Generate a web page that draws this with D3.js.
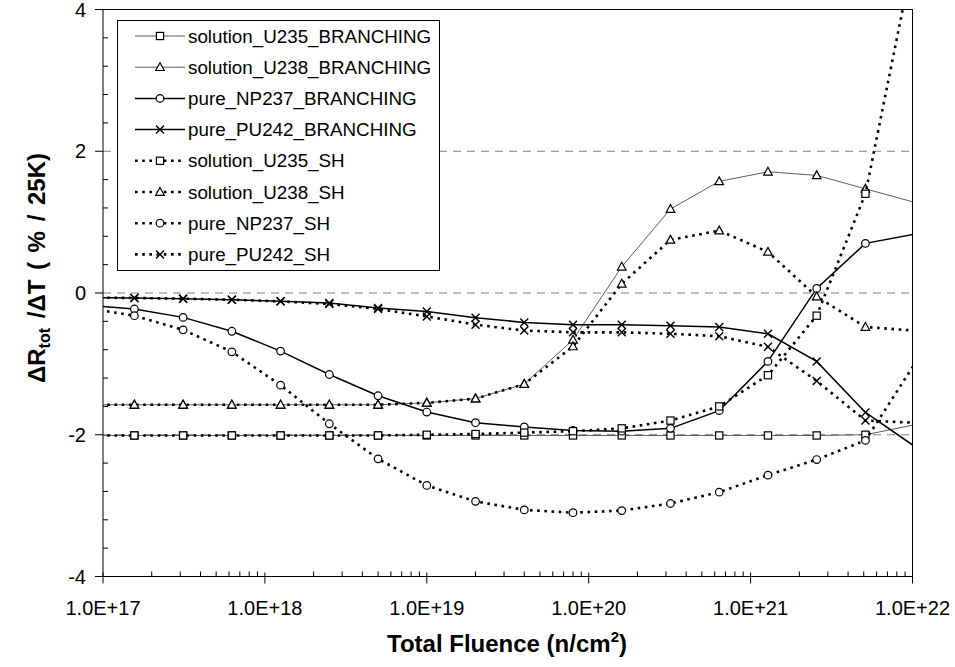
<!DOCTYPE html>
<html><head><meta charset="utf-8">
<script src="https://cdn.jsdelivr.net/npm/d3@7/dist/d3.min.js"></script>
<style>body{margin:0;background:#fff} svg{display:block} text{font-family:Arial,"Liberation Sans",sans-serif;fill:#000}</style>
</head><body><svg id="c" width="955" height="667"></svg>
<script>
// Total fluence (n/cm2) sample points (first and last lie just outside the axis range)
const fluence = [7.8125e16, 1.5625e17, 3.125e17, 6.25e17, 1.25e18, 2.5e18, 5e18, 1e19, 2e19, 4e19, 8e19, 1.6e20, 3.2e20, 6.4e20, 1.28e21, 2.56e21, 5.12e21, 1.024e22];

const solution_U235_BRANCHING = [-2.01,-2.01,-2.01,-2.01,-2.01,-2.01,-2.01,-2.01,-2.01,-2.01,-2.01,-2.01,-2.01,-2.01,-2.01,-2.01,-2.0,-1.86];
const solution_U238_BRANCHING = [-1.577,-1.577,-1.577,-1.577,-1.577,-1.577,-1.577,-1.55,-1.49,-1.285,-0.66,0.37,1.185,1.575,1.71,1.66,1.47,1.28];
const pure_NP237_BRANCHING    = [-0.17,-0.226,-0.344,-0.54,-0.82,-1.15,-1.45,-1.68,-1.83,-1.89,-1.94,-1.95,-1.91,-1.66,-0.965,0.065,0.70,0.83];
const pure_PU242_BRANCHING    = [-0.065,-0.07,-0.08,-0.095,-0.118,-0.141,-0.212,-0.26,-0.35,-0.415,-0.447,-0.447,-0.461,-0.48,-0.575,-0.965,-1.685,-2.16];
const solution_U235_SH        = [-2.01,-2.01,-2.01,-2.01,-2.01,-2.01,-2.01,-2.0,-1.99,-1.97,-1.95,-1.91,-1.80,-1.60,-1.16,-0.32,1.40,4.8];
const solution_U238_SH        = [-1.577,-1.577,-1.577,-1.577,-1.577,-1.577,-1.577,-1.55,-1.49,-1.285,-0.754,0.13,0.75,0.88,0.58,-0.05,-0.48,-0.53];
const pure_NP237_SH           = [-0.21,-0.32,-0.52,-0.83,-1.30,-1.845,-2.34,-2.715,-2.94,-3.06,-3.10,-3.07,-2.97,-2.81,-2.57,-2.35,-2.08,-1.01];
const pure_PU242_SH           = [-0.065,-0.07,-0.08,-0.095,-0.118,-0.155,-0.226,-0.33,-0.447,-0.53,-0.555,-0.555,-0.575,-0.61,-0.76,-1.24,-1.80,-1.83];

const seriesNames = ["solution_U235_BRANCHING","solution_U238_BRANCHING","pure_NP237_BRANCHING","pure_PU242_BRANCHING","solution_U235_SH","solution_U238_SH","pure_NP237_SH","pure_PU242_SH"];
const seriesValues = [solution_U235_BRANCHING,solution_U238_BRANCHING,pure_NP237_BRANCHING,pure_PU242_BRANCHING,solution_U235_SH,solution_U238_SH,pure_NP237_SH,pure_PU242_SH];
const seriesMarkers = ["square","triangle","circle","cross","square","triangle","circle","cross"];
const seriesStyle = ["thin","thin","solid","solid","dot","dot","dot","dot"];

const xTickLabels = ["1.0E+17","1.0E+18","1.0E+19","1.0E+20","1.0E+21","1.0E+22"];
const yTickValues = [-4,-2,0,2,4];
const yGridValues = [-2,0,2];
const xTitle = "Total Fluence (n/cm";
const yTitle = "\u0394R";

const svg = d3.select("#c");
const L = 103, R = 912.5, T = 9.5, B = 576.5;
const x = d3.scaleLog().domain([1e17,1e22]).range([L,R]);
const y = d3.scaleLinear().domain([-4,4]).range([B,T]);

svg.append("defs").append("clipPath").attr("id","clip")
  .append("rect").attr("x",L).attr("y",T).attr("width",R-L).attr("height",B-T);

// gridlines
svg.append("g").selectAll("line").data(yGridValues).join("line")
  .attr("x1",L).attr("x2",R).attr("y1",d=>y(d)).attr("y2",d=>y(d))
  .attr("stroke","#808080").attr("stroke-width",1).attr("stroke-dasharray","8,6");

// frame
svg.append("rect").attr("x",L).attr("y",T).attr("width",R-L).attr("height",B-T)
  .attr("fill","none").attr("stroke","#000").attr("stroke-width",1);

// x axis
const xMajor = d3.range(17,23).map(e=>Math.pow(10,e));
const xMinor = [];
for (let e=17;e<22;e++) for (let m=2;m<=9;m++) xMinor.push(m*Math.pow(10,e));
const gx = svg.append("g");
gx.selectAll("line.mj").data(xMajor).join("line").attr("class","mj")
  .attr("x1",d=>x(d)).attr("x2",d=>x(d)).attr("y1",B-4).attr("y2",B+7).attr("stroke","#000");
gx.selectAll("line.mn").data(xMinor).join("line").attr("class","mn")
  .attr("x1",d=>x(d)).attr("x2",d=>x(d)).attr("y1",B-5).attr("y2",B).attr("stroke","#000");
gx.selectAll("text").data(xMajor).join("text")
  .attr("x",d=>x(d)).attr("y",615).attr("text-anchor","middle").attr("font-size",20)
  .text((d,i)=>xTickLabels[i]);

// y axis
const yMinor = d3.range(-4,4.001,0.4).filter(v=>Math.abs(v/2-Math.round(v/2))>1e-6);
const gy = svg.append("g");
gy.selectAll("line.mj").data(yTickValues).join("line").attr("class","mj")
  .attr("x1",L-8).attr("x2",L).attr("y1",d=>y(d)).attr("y2",d=>y(d)).attr("stroke","#000");
gy.selectAll("line.mn").data(yMinor).join("line").attr("class","mn")
  .attr("x1",L).attr("x2",L+5).attr("y1",d=>y(d)).attr("y2",d=>y(d)).attr("stroke","#000");
gy.selectAll("text").data(yTickValues).join("text")
  .attr("x",86).attr("y",d=>y(d)+7).attr("text-anchor","end").attr("font-size",20)
  .text(d=>d);

// titles
const xt = svg.append("text").attr("x",507).attr("y",652).attr("text-anchor","middle")
  .attr("font-size",24).attr("font-weight","bold");
xt.append("tspan").text(xTitle);
xt.append("tspan").attr("font-size",15).attr("dy",-10).text("2");
xt.append("tspan").attr("dy",10).text(")");

const yt = svg.append("text").attr("transform","translate(45,268) rotate(-90)")
  .attr("text-anchor","middle").attr("font-size",24).attr("font-weight","bold")
  .attr("word-spacing",3);
yt.append("tspan").text(yTitle);
yt.append("tspan").attr("font-size",16).attr("dy",5).text("tot");
yt.append("tspan").attr("dy",-5).text(" /\u0394T ( % / 25K)");

// series
const lineGen = d3.line().x((d,i)=>x(fluence[i])).y(d=>y(d));
function styleLine(sel, st){
  if (st==="thin") sel.attr("stroke","#333").attr("stroke-width",0.8);
  else if (st==="solid") sel.attr("stroke","#000").attr("stroke-width",1.5);
  else sel.attr("stroke","#000").attr("stroke-width",2.6).attr("stroke-dasharray","2.6,4.6");
}
function drawMarker(g, type, cx, cy){
  const s = {stroke:"#000","stroke-width":1.2,fill:"#fff"};
  let m;
  if (type==="square") m = g.append("rect").attr("x",cx-3.6).attr("y",cy-3.6).attr("width",7.2).attr("height",7.2);
  else if (type==="triangle") m = g.append("path").attr("d",`M${cx},${cy-4.5}L${cx+4.3},${cy+3.3}L${cx-4.3},${cy+3.3}Z`);
  else if (type==="circle") m = g.append("circle").attr("cx",cx).attr("cy",cy).attr("r",3.8);
  else { m = g.append("path").attr("d",`M${cx-4},${cy-4}L${cx+4},${cy+4}M${cx-4},${cy+4}L${cx+4},${cy-4}`); s.fill="none"; s["stroke-width"]=1.4; }
  for (const k in s) m.attr(k,s[k]);
}
const plot = svg.append("g");
seriesValues.forEach((vals,si)=>{
  const g = plot.append("g");
  const p = g.append("path").datum(vals).attr("d",lineGen).attr("fill","none").attr("clip-path","url(#clip)");
  styleLine(p, seriesStyle[si]);
  vals.forEach((v,i)=>{
    const f = fluence[i];
    if (f>=1e17 && f<=1e22 && v>=-4 && v<=4) drawMarker(g, seriesMarkers[si], x(f), y(v));
  });
});

// legend
const lg = svg.append("g");
lg.append("rect").attr("x",117.5).attr("y",20.5).attr("width",322).attr("height",250)
  .attr("fill","#fff").attr("stroke","#000").attr("stroke-width",1);
seriesNames.forEach((n,i)=>{
  const cy = 36 + i*31.2;
  const ln = lg.append("line").attr("x1",135).attr("x2",185).attr("y1",cy).attr("y2",cy);
  styleLine(ln, seriesStyle[i]);
  drawMarker(lg, seriesMarkers[i], 160, cy);
  lg.append("text").attr("x",188).attr("y",cy+6.5).attr("font-size",18.8).text(n);
});
</script></body></html>
